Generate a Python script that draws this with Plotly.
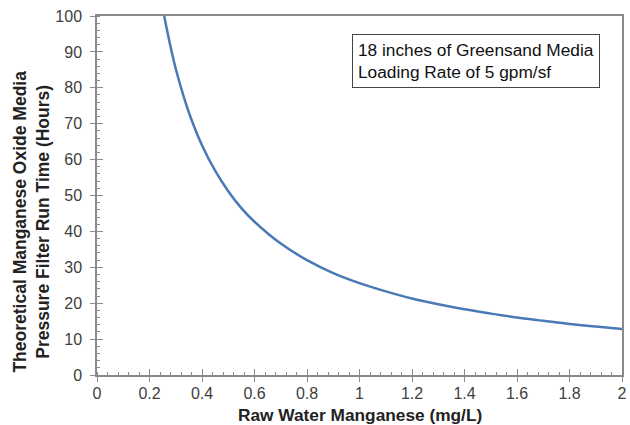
import plotly.graph_objects as go

manganese = [0.256, 0.28, 0.30, 0.33, 0.36, 0.40, 0.45, 0.50, 0.55, 0.60, 0.70, 0.80, 0.90, 1.00,
             1.10, 1.20, 1.30, 1.40, 1.50, 1.60, 1.70, 1.80, 1.90, 2.00]
run_time = [100, 91.5, 85.3, 77.6, 71.1, 64.0, 56.9, 51.2, 46.5, 42.7, 36.6, 32.0, 28.4, 25.6,
            23.3, 21.3, 19.7, 18.3, 17.1, 16.0, 15.1, 14.2, 13.5, 12.8]
x_ticks = [0, 0.2, 0.4, 0.6, 0.8, 1, 1.2, 1.4, 1.6, 1.8, 2]
x_labels = ["0", "0.2", "0.4", "0.6", "0.8", "1", "1.2", "1.4", "1.6", "1.8", "2"]
y_ticks = [0, 10, 20, 30, 40, 50, 60, 70, 80, 90, 100]
x_title = "<b>Raw Water Manganese (mg/L)</b>"
y_title = "<b>Theoretical Manganese Oxide Media<br>Pressure Filter Run Time (Hours)</b>"
note = "18 inches of Greensand Media<br>Loading Rate of 5 gpm/sf"

FONT = "Liberation Sans, Arial"
AX = "#8a8a8a"

fig = go.Figure()
fig.add_trace(go.Scatter(x=manganese, y=run_time, mode="lines", line_shape="spline",
                         line=dict(color="#4a7ab5", width=2.5), hoverinfo="skip"))
# invisible helper trace on overlay axes so inner halves of major ticks render
fig.add_trace(go.Scatter(x=[manganese[0]], y=[run_time[-1]], xaxis="x2", yaxis="y2",
                         mode="markers", marker=dict(opacity=0), hoverinfo="skip"))

tick_font = dict(family=FONT, size=16, color="#404040")
fig.update_layout(
    width=630, height=425,
    margin=dict(l=97, r=8, t=16, b=50),
    paper_bgcolor="white", plot_bgcolor="white",
    showlegend=False,
    font=dict(family=FONT, color="#222222"),
    xaxis=dict(range=[0, 2], tickvals=x_ticks, ticktext=x_labels, tickfont=tick_font,
               automargin=False, ticklabeloverflow="allow", ticklabelstandoff=-2,
               showgrid=False, zeroline=False, showline=True, linecolor=AX, linewidth=1.5,
               mirror=True, ticks="outside", ticklen=5, tickcolor=AX, tickwidth=1,
               minor=dict(dtick=0.04, ticks="inside", ticklen=3, tickcolor=AX)),
    yaxis=dict(range=[0, 100], tickvals=y_ticks, tickfont=tick_font,
               automargin=False, ticklabeloverflow="allow", ticklabelstandoff=5,
               showgrid=False, zeroline=False, showline=True, linecolor=AX, linewidth=1.5,
               mirror=True, ticks="outside", ticklen=5, tickcolor=AX, tickwidth=1,
               minor=dict(dtick=2, ticks="inside", ticklen=3, tickcolor=AX)),
    xaxis2=dict(range=[0, 2], overlaying="x", side="bottom", tickvals=x_ticks, showticklabels=False,
                automargin=False, showgrid=False, zeroline=False, showline=False,
                ticks="inside", ticklen=6, tickcolor=AX),
    yaxis2=dict(range=[0, 100], overlaying="y", side="left", tickvals=y_ticks, showticklabels=False,
                automargin=False, showgrid=False, zeroline=False, showline=False,
                ticks="inside", ticklen=6, tickcolor=AX),
)
fig.add_annotation(xref="paper", yref="paper", x=0.5, y=0, yshift=-40, xanchor="center",
                   yanchor="middle", text=x_title, showarrow=False,
                   font=dict(family=FONT, size=17.3, color="#222222"))
fig.add_annotation(xref="paper", yref="paper", x=0, y=0.426, xshift=-65.5, xanchor="center",
                   yanchor="middle", text=y_title, showarrow=False, textangle=-90,
                   font=dict(family=FONT, size=17.5, color="#222222"))
fig.add_annotation(xref="paper", yref="paper", x=0.486, y=0.95, xanchor="left", yanchor="top",
                   text=note, showarrow=False, align="left",
                   font=dict(family=FONT, size=17.3, color="#111111"),
                   bordercolor="#444444", borderwidth=1, borderpad=5, bgcolor="white")
fig.write_html("out.html", config={"displayModeBar": False},
               post_script="document.body.style.margin='0';document.body.style.overflow='hidden';")
